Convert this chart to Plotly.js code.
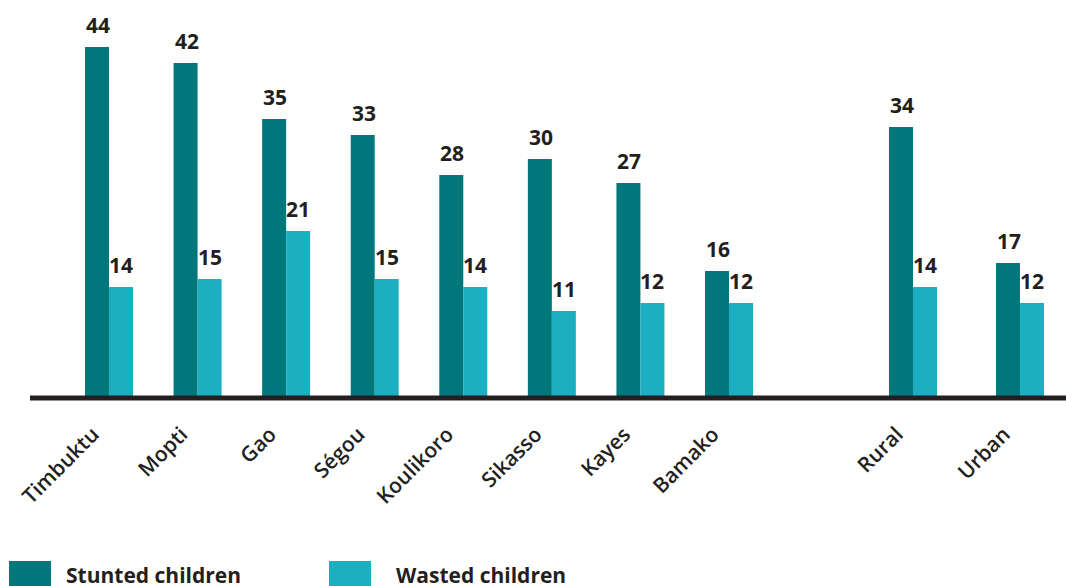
<!DOCTYPE html>
<html>
<head>
<meta charset="utf-8">
<script src="https://cdn.plot.ly/plotly-3.0.1.min.js"></script>
<style>html,body{margin:0;padding:0;background:#fff;}#chart{width:1066px;height:586px;}</style>
</head>
<body>
<div id="chart"></div>
<script>
// ---- data ----
const regions = ["Timbuktu", "Mopti", "Gao", "Ségou", "Koulikoro", "Sikasso", "Kayes", "Bamako"];
const stuntedRegions = [44, 42, 35, 33, 28, 30, 27, 16];
const wastedRegions = [14, 15, 21, 15, 14, 11, 12, 12];
const areas = ["Rural", "Urban"];
const stuntedAreas = [34, 17];
const wastedAreas = [14, 12];
const seriesNames = ["Stunted children", "Wasted children"];

// ---- style / layout ----
const W = 1066, H = 586;
const mL = 30, mR = 0, mT = 0, mB = 187;
const plotW = W - mL - mR, plotH = H - mT - mB;
const pxPerUnit = 8;
const yMax = plotH / pxPerUnit;
const C1 = "#00787B", C2 = "#1BAFC1", TXT = "#231F20";
const FONT = "Open Sans";
const px2x = p => (p - mL) / plotW;
const py2y = p => (mT + plotH - p) / plotH;

// axis 1 geometry: categories centered at 109 ... spacing 88.57
const sp1 = (729 - 109) / 7;
const d1 = [px2x(109 - sp1 / 2), px2x(109 + 7.5 * sp1)];
// axis 2 geometry: Rural 913, Urban 1020
const sp2 = 1020 - 913;
const x2left = 913 - sp2 / 2;
const d2 = [px2x(x2left), 1];
const x2rangeMax = -0.5 + (W - mR - x2left) / sp2;
const barPx = 24;
const w1 = barPx / sp1, w2 = barPx / sp2;

const traces = [
  {type: "bar", x: regions, y: stuntedRegions, name: seriesNames[0], marker: {color: C1},
   width: w1, offset: -w1, xaxis: "x", yaxis: "y", showlegend: false},
  {type: "bar", x: regions, y: wastedRegions, name: seriesNames[1], marker: {color: C2},
   width: w1, offset: 0, xaxis: "x", yaxis: "y", showlegend: false},
  {type: "bar", x: areas, y: stuntedAreas, name: seriesNames[0], marker: {color: C1},
   width: w2, offset: -w2, xaxis: "x2", yaxis: "y", showlegend: false},
  {type: "bar", x: areas, y: wastedAreas, name: seriesNames[1], marker: {color: C2},
   width: w2, offset: 0, xaxis: "x2", yaxis: "y", showlegend: false}
];

const labFont = {family: FONT, size: 21, color: TXT, weight: 700};
const annotations = [];
function addLabels(cats, vals, xref, shiftPx) {
  cats.forEach((c, i) => annotations.push({
    x: c, y: vals[i], xref: xref, yref: "y", text: String(vals[i]), showarrow: false,
    xanchor: "center", yanchor: "bottom", xshift: shiftPx, yshift: 6, font: labFont
  }));
}
addLabels(regions, stuntedRegions, "x", -11);
addLabels(regions, wastedRegions, "x", 12);
addLabels(areas, stuntedAreas, "x2", -11);
addLabels(areas, wastedAreas, "x2", 12);

// baseline + custom legend
const shapes = [
  {type: "line", xref: "paper", yref: "paper", x0: 0, x1: 1, y0: py2y(398), y1: py2y(398), line: {color: TXT, width: 5}}
];
const legendItems = [{sx: 9, tx: 66, color: C1, name: seriesNames[0]}, {sx: 329, tx: 396, color: C2, name: seriesNames[1]}];
legendItems.forEach(it => {
  shapes.push({type: "rect", xref: "paper", yref: "paper", x0: px2x(it.sx), x1: px2x(it.sx + 42),
    y0: py2y(561), y1: py2y(592), line: {width: 0}, fillcolor: it.color});
  annotations.push({xref: "paper", yref: "paper", x: px2x(it.tx - 2), y: py2y(575), text: it.name,
    showarrow: false, xanchor: "left", yanchor: "middle", font: labFont});
});

const tickFont = {family: FONT, size: 21, color: TXT, weight: 600};
const axCommon = {type: "category", showline: false, showgrid: false, zeroline: false, ticks: "",
  tickangle: -45, tickfont: tickFont, ticklabelstandoff: 18, ticklabelshift: -16, fixedrange: true};
const layout = {
  width: W, height: H,
  margin: {l: mL, r: mR, t: mT, b: mB, pad: 0},
  paper_bgcolor: "#fff", plot_bgcolor: "#fff",
  barmode: "overlay",
  showlegend: false,
  xaxis: Object.assign({}, axCommon, {domain: d1, range: [-0.5, 7.5]}),
  xaxis2: Object.assign({}, axCommon, {domain: d2, range: [-0.5, x2rangeMax], anchor: "y"}),
  yaxis: {range: [0, yMax], visible: false, fixedrange: true},
  shapes: shapes,
  annotations: annotations
};
Plotly.newPlot("chart", traces, layout, {displayModeBar: false, staticPlot: true});
</script>
</body>
</html>
